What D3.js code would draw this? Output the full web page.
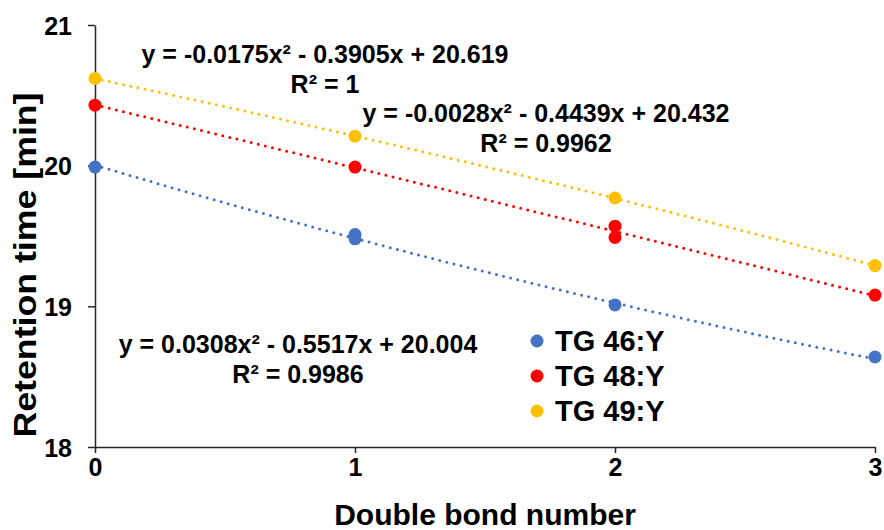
<!DOCTYPE html>
<html><head><meta charset="utf-8">
<script src="https://cdn.jsdelivr.net/npm/d3@7"></script>
<style>body{margin:0;background:#fff}text{font-family:"Liberation Sans",Arial,sans-serif;font-weight:bold}</style>
</head><body><svg id="c" width="884" height="530"></svg>
<script>
const seriesNames = ["TG 46:Y", "TG 48:Y", "TG 49:Y"];
const colors = ["#4472C4", "#FF0000", "#FFC000"];
const xs46 = [0, 1, 1, 2, 3];
const ys46 = [19.99, 19.51, 19.48, 19.01, 18.64];
const xs48 = [0, 1, 2, 2, 3];
const ys48 = [20.43, 19.99, 19.57, 19.49, 19.08];
const xs49 = [0, 1, 2, 3];
const ys49 = [20.62, 20.21, 19.77, 19.29];
const coef46 = [0.0308, -0.5517, 20.004];
const coef48 = [-0.0028, -0.4439, 20.432];
const coef49 = [-0.0175, -0.3905, 20.619];
const eqs = [
  ["y = 0.0308x\u00B2 - 0.5517x + 20.004", "R\u00B2 = 0.9986"],
  ["y = -0.0028x\u00B2 - 0.4439x + 20.432", "R\u00B2 = 0.9962"],
  ["y = -0.0175x\u00B2 - 0.3905x + 20.619", "R\u00B2 = 1"]
];
const xTicks = [0, 1, 2, 3];
const yTicks = [18, 19, 20, 21];

const FONT = '"Liberation Sans",Arial,sans-serif';
const svg = d3.select("#c");
const x = d3.scaleLinear().domain([0, 3]).range([95, 875]);
const y = d3.scaleLinear().domain([18, 21]).range([447, 25]);

const series = [
  {xs: xs46, ys: ys46, coef: coef46},
  {xs: xs48, ys: ys48, coef: coef48},
  {xs: xs49, ys: ys49, coef: coef49}
];

// axes
const xa = svg.append("g").attr("transform", "translate(0,447)")
  .call(d3.axisBottom(x).tickValues(xTicks).tickFormat(d3.format("d")).tickSize(6).tickSizeOuter(0));
const ya = svg.append("g").attr("transform", "translate(95,0)")
  .call(d3.axisLeft(y).tickValues(yTicks).tickFormat(d3.format("d")).tickSize(7).tickSizeOuter(0));
[xa, ya].forEach(g => {
  g.attr("font-family", FONT).attr("font-size", 25).attr("font-weight", "bold");
  g.select(".domain").attr("stroke", "#262626").attr("stroke-width", 1.5);
  g.selectAll(".tick line").attr("stroke", "#262626").attr("stroke-width", 1.5);
  g.selectAll(".tick text").attr("fill", "#000")
    .style("font-size", "25px").style("font-weight", "bold").style("font-family", FONT);
});
xa.selectAll(".tick text").attr("y", 11).attr("dy", "0.71em");
ya.selectAll(".tick text").attr("x", -23).attr("dy", "0.36em");

// trendlines
const tline = d3.line().x(d => x(d[0])).y(d => y(d[1]));
series.forEach((s, i) => {
  const pts = d3.range(0, 3.001, 0.05).map(t => [t, s.coef[0]*t*t + s.coef[1]*t + s.coef[2]]);
  svg.append("path").attr("d", tline(pts)).attr("fill", "none")
    .attr("stroke", colors[i]).attr("stroke-width", 3)
    .attr("stroke-linecap", "round").attr("stroke-dasharray", "0,7.3");
});

// points
series.forEach((s, i) => {
  svg.append("g").selectAll("circle").data(s.xs.map((v, k) => [v, s.ys[k]])).join("circle")
    .attr("cx", d => x(d[0])).attr("cy", d => y(d[1])).attr("r", 6.5).attr("fill", colors[i]);
});

// equations (center x, first baseline)
const eqPos = [[325, 63], [546, 122], [298, 353]];
const eqOrder = [2, 1, 0];
eqOrder.forEach((ei, k) => {
  const e = eqs[ei];
  const t = svg.append("text").attr("text-anchor", "middle")
    .style("font-size", "25px").style("font-family", FONT).style("font-weight", "bold").attr("fill", "#000");
  t.append("tspan").attr("x", eqPos[k][0]).attr("y", eqPos[k][1]).text(e[0]);
  t.append("tspan").attr("x", eqPos[k][0]).attr("y", eqPos[k][1] + 30).text(e[1]);
});

// legend
seriesNames.forEach((n, i) => {
  const ly = 341 + i * 35;
  svg.append("circle").attr("cx", 537).attr("cy", ly).attr("r", 6.5).attr("fill", colors[i]);
  svg.append("text").attr("x", 555).attr("y", ly + 10)
    .style("font-size", "29px").style("font-family", FONT).style("font-weight", "bold")
    .attr("fill", "#000").text(n);
});

// axis titles
svg.append("text").attr("x", 485).attr("y", 525).attr("text-anchor", "middle")
  .style("font-size", "30px").style("font-family", FONT).style("font-weight", "bold").attr("fill", "#000")
  .text("Double bond number");
svg.append("text").attr("transform", "translate(36,265) rotate(-90)").attr("text-anchor", "middle")
  .attr("textLength", 345).attr("lengthAdjust", "spacingAndGlyphs")
  .style("font-size", "31px").style("font-family", FONT).style("font-weight", "bold").attr("fill", "#000")
  .text("Retention time [min]");
</script></body></html>
